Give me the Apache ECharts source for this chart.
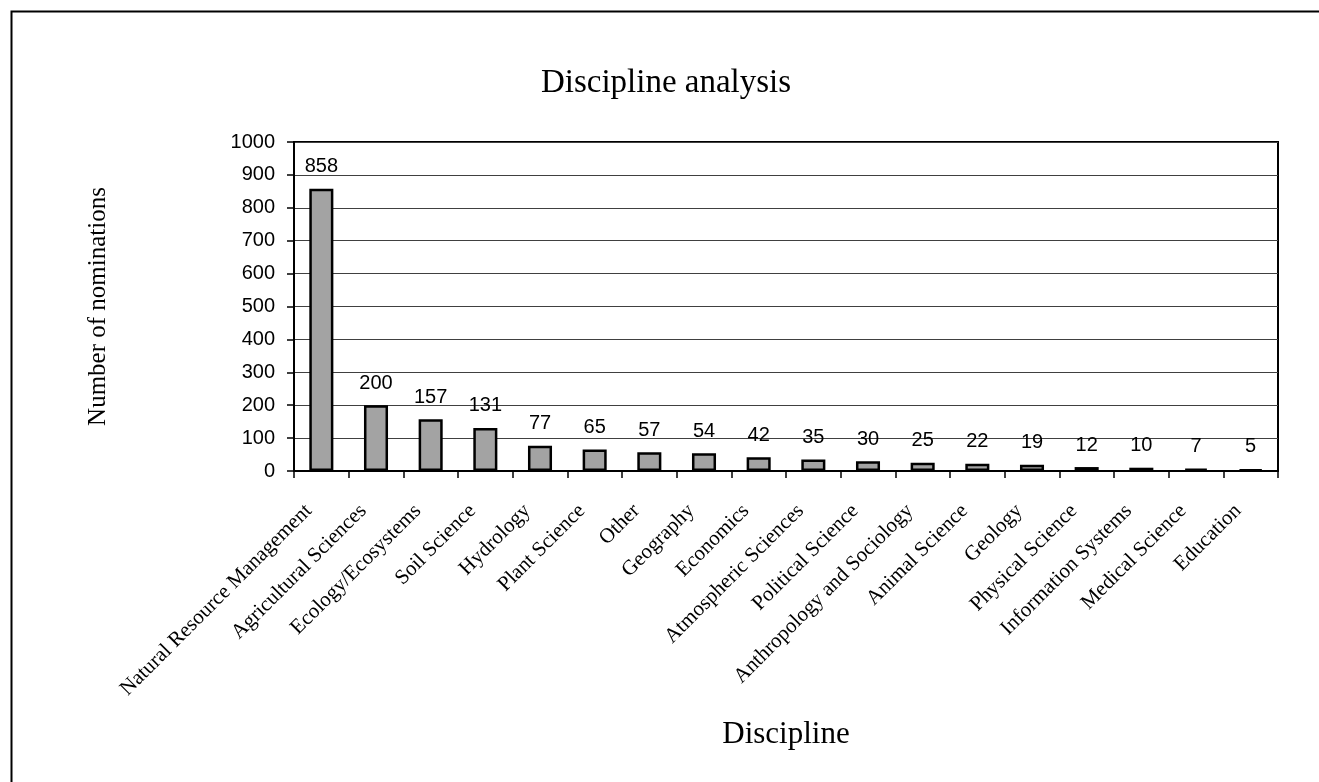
<!DOCTYPE html>
<html>
<head>
<meta charset="utf-8">
<script src="https://cdn.jsdelivr.net/npm/echarts@6/dist/echarts.min.js"></script>
<style>
html,body{margin:0;padding:0;background:#fff;}
#chart{width:1319px;height:782px;}
</style>
</head>
<body>
<div id="chart"></div>
<script>
const categories = ["Natural Resource Management","Agricultural Sciences","Ecology/Ecosystems","Soil Science","Hydrology","Plant Science","Other","Geography","Economics","Atmospheric Sciences","Political Science","Anthropology and Sociology","Animal Science","Geology","Physical Science","Information Systems","Medical Science","Education"];
const nominations = [858,200,157,131,77,65,57,54,42,35,30,25,22,19,12,10,7,5];
const yTicks = [0,100,200,300,400,500,600,700,800,900,1000];

const SERIF = '"Liberation Serif","Times New Roman",serif';
const SANS = '"Liberation Sans",Arial,sans-serif';

const chart = echarts.init(document.getElementById('chart'));
chart.setOption({
  animation: false,
  backgroundColor: '#fff',
  title: {
    text: 'Discipline analysis',
    left: 661,
    textAlign: 'center',
    top: 62,
    textStyle: {fontFamily: SERIF, fontSize: 33, fontWeight: 'normal', color: '#000'}
  },
  graphic: [{
    type: 'rect', left: 9, top: 9, silent: true,
    shape: {x: 0, y: 0, width: 1400, height: 900},
    style: {fill: 'none', stroke: '#000', lineWidth: 2}
  }],
  grid: {
    left: 294, right: 41, top: 142, bottom: 311,
    show: true, borderColor: '#000', borderWidth: 2, backgroundColor: 'transparent'
  },
  xAxis: {
    type: 'category',
    data: categories,
    name: 'Discipline',
    nameLocation: 'middle',
    nameGap: 248,
    nameTextStyle: {fontFamily: SERIF, fontSize: 31, color: '#000'},
    axisLine: {lineStyle: {color: '#000', width: 2}},
    axisTick: {show: true, length: 7, lineStyle: {color: '#000', width: 1.5}},
    axisLabel: {interval: 0, rotate: 45, margin: 24, padding: [0, 18, 0, 0], fontFamily: SERIF, fontSize: 21, color: '#000'}
  },
  yAxis: {
    type: 'value',
    min: yTicks[0], max: yTicks[yTicks.length-1], interval: 100,
    name: 'Number of nominations',
    nameLocation: 'middle',
    nameGap: 183,
    nameRotate: 90,
    nameTextStyle: {fontFamily: SERIF, fontSize: 25, color: '#000'},
    axisLine: {show: true, lineStyle: {color: '#000', width: 2}},
    axisTick: {show: true, length: 7, lineStyle: {color: '#000', width: 1.5}},
    axisLabel: {margin: 19, fontFamily: SANS, fontSize: 20, color: '#000', formatter: v => String(v)},
    splitLine: {show: true, lineStyle: {color: '#404040', width: 1}}
  },
  series: [{
    type: 'bar',
    data: nominations,
    barWidth: '44%',
    itemStyle: {color: '#a3a3a3', borderColor: '#000', borderWidth: 2.5},
    label: {show: true, position: 'top', distance: 12, fontFamily: SANS, fontSize: 20, color: '#000'}
  }]
});
</script>
</body>
</html>
